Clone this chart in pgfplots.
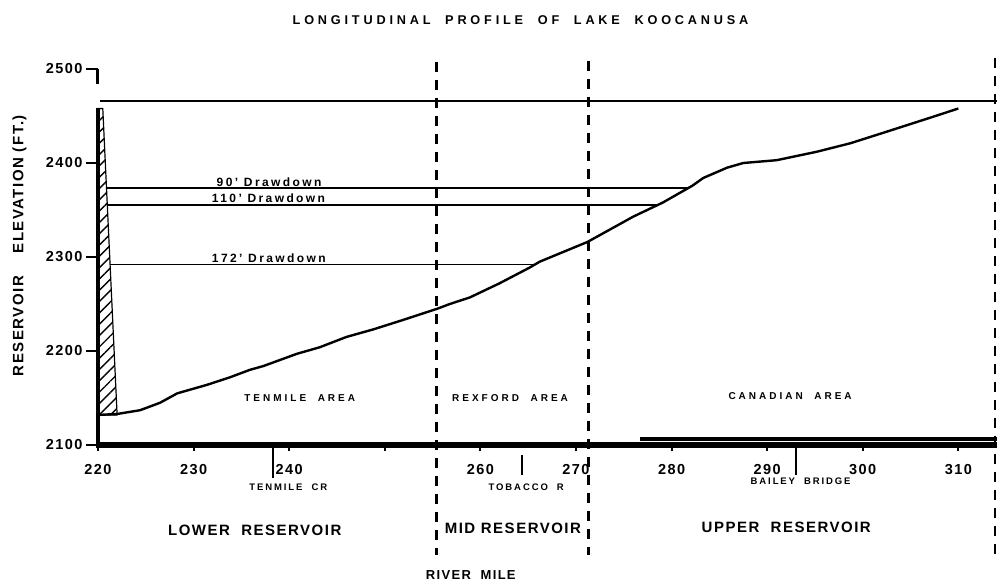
\documentclass[border=0pt]{standalone}
\usepackage{pgfplots}
\pgfplotsset{compat=1.18}
\usetikzlibrary{patterns.meta}
\usepackage{fontspec}
\setmainfont{Liberation Sans}
\newfontfamily\fA{Liberation Sans}[LetterSpace=10]
\newfontfamily\fB{Liberation Sans}[LetterSpace=30]
\newfontfamily\fC{Liberation Sans}[LetterSpace=20]
\begin{document}
\begin{tikzpicture}
\useasboundingbox (-98pt,-137pt) rectangle (900pt,445pt);
\begin{axis}[
  at={(0,0)}, anchor=south west,
  scale only axis, width=898.6pt, height=376pt,
  xmin=220, xmax=314, ymin=2100, ymax=2500,
  axis lines*=left, axis line style={draw=none},
  clip=false,
  xtick={220,230,240,250,260,270,280,290,300,310},
  xticklabels={220,230,240,,260,270,280,290,300,310},
  ytick={2100,2200,2300,2400,2500},
  tick align=outside,
  major tick length=12pt,
  xtick style={black, line width=2pt, /pgfplots/major tick length=6pt},
  ytick style={black, line width=2pt},
  /pgf/number format/assume math mode=true,
  /pgf/number format/1000 sep={},
  ticklabel style={font=\fontsize{14.5}{14.5}\selectfont\fA\bfseries},
  xticklabel style={yshift=-4pt},
]
% full pool line
\addplot[black, line width=2.5pt] coordinates {(220.2,2466) (314,2466)};
% dam hatch
\addplot[draw=black, line width=1.2pt, pattern={Lines[angle=45,distance=8pt,line width=1.4pt]}]
  coordinates {(220,2132) (222,2132) (220.5,2458) (220,2458)} -- cycle;
% axis lines
\addplot[black, line width=4pt] coordinates {(220,2100) (220,2458)};
\addplot[black, line width=3pt] coordinates {(220,2500) (220,2484)};
\addplot[black, line width=6pt] coordinates {(219.8,2100) (314,2100)};
\addplot[black, line width=4pt] coordinates {(276.7,2106) (314,2106)};
% profile
\addplot[black, line width=2.4pt] coordinates {
(220,2132) (222,2133) (224.4,2137) (226.5,2145) (228.3,2155) (231.4,2164)
(233.8,2172) (235.9,2180) (237.3,2184) (240.8,2197) (243.2,2204) (246.0,2215)
(248.8,2223) (251.9,2233) (255.5,2245) (256.8,2250) (258.9,2257) (262.0,2272)
(265.2,2289) (266.2,2295) (271.2,2316) (276.0,2343) (279.1,2358) (282.2,2376)
(283.3,2384) (285.8,2395) (287.5,2400) (291.0,2403) (295.2,2412) (298.7,2421)
(302.1,2432) (307.3,2449) (310.0,2458)};
% drawdown lines
\addplot[black, line width=1.8pt] coordinates {(220.9,2373) (281.7,2373)};
\addplot[black, line width=1.8pt] coordinates {(221.0,2355) (278.5,2355)};
\addplot[black, line width=1.8pt] coordinates {(221.3,2292) (265.7,2292)};
% dashed dividers
\addplot[black, line width=2.2pt, dash pattern=on 10pt off 8pt] coordinates {(255.4,2507) (255.4,1983)};
\addplot[black, line width=2.2pt, dash pattern=on 10pt off 8pt] coordinates {(271.3,2509) (271.3,1983)};
\addplot[black, line width=2.2pt, dash pattern=on 10pt off 8pt] coordinates {(313.8,2512) (313.8,1983)};
% landmark ticks
\addplot[black, line width=2pt] coordinates {(238.3,2100) (238.3,2065)};
\addplot[black, line width=2pt] coordinates {(264.4,2089) (264.4,2068)};
\addplot[black, line width=2pt] coordinates {(293.0,2100) (293.0,2068)};
% texts
\node[font=\fontsize{12.7}{12.7}\selectfont\fB\bfseries] at (axis cs:264.2,2552) {LONGITUDINAL\ \ PROFILE\ \ OF\ \ LAKE\ \ KOOCANUSA};
\node[rotate=90, font=\fontsize{15}{15}\selectfont\fA\bfseries] at (axis cs:211.8,2312) {RESERVOIR\ \ \ \ ELEVATION (FT.)};
\node[font=\fontsize{10}{10}\selectfont\fB\bfseries] at (axis cs:241.1,2150) {TENMILE\ \ AREA};
\node[font=\fontsize{10}{10}\selectfont\fB\bfseries] at (axis cs:263.1,2150) {REXFORD\ \ AREA};
\node[font=\fontsize{10}{10}\selectfont\fB\bfseries] at (axis cs:292.4,2152) {CANADIAN\ \ AREA};
\node[anchor=base west, inner sep=0pt, font=\fontsize{12}{12}\selectfont\fC\bfseries] at (axis cs:232.4,2375.5) {90’ Drawdown};
\node[anchor=base west, inner sep=0pt, font=\fontsize{12}{12}\selectfont\fC\bfseries] at (axis cs:231.9,2357.5) {110’ Drawdown};
\node[anchor=base west, inner sep=0pt, font=\fontsize{12}{12}\selectfont\fC\bfseries] at (axis cs:231.9,2294.5) {172’ Drawdown};
\node[font=\fontsize{9.5}{9.5}\selectfont\fC\bfseries] at (axis cs:239.9,2055) {TENMILE\ \ CR};
\node[font=\fontsize{9.5}{9.5}\selectfont\fC\bfseries] at (axis cs:264.8,2055) {TOBACCO\ \ R};
\node[font=\fontsize{9.5}{9.5}\selectfont\fC\bfseries] at (axis cs:293.5,2061) {BAILEY\ \ BRIDGE};
\node[font=\fontsize{15}{15}\selectfont\fA\bfseries] at (axis cs:236.4,2009.6) {LOWER\ \ RESERVOIR};
\node[font=\fontsize{15}{15}\selectfont\fA\bfseries] at (axis cs:263.4,2011) {MID RESERVOIR};
\node[font=\fontsize{15}{15}\selectfont\fA\bfseries] at (axis cs:292.0,2012.8) {UPPER\ \ RESERVOIR};
\node[font=\fontsize{13}{13}\selectfont\fA\bfseries] at (axis cs:259.0,1962) {RIVER\ \ MILE};
\end{axis}
\end{tikzpicture}
\end{document}
